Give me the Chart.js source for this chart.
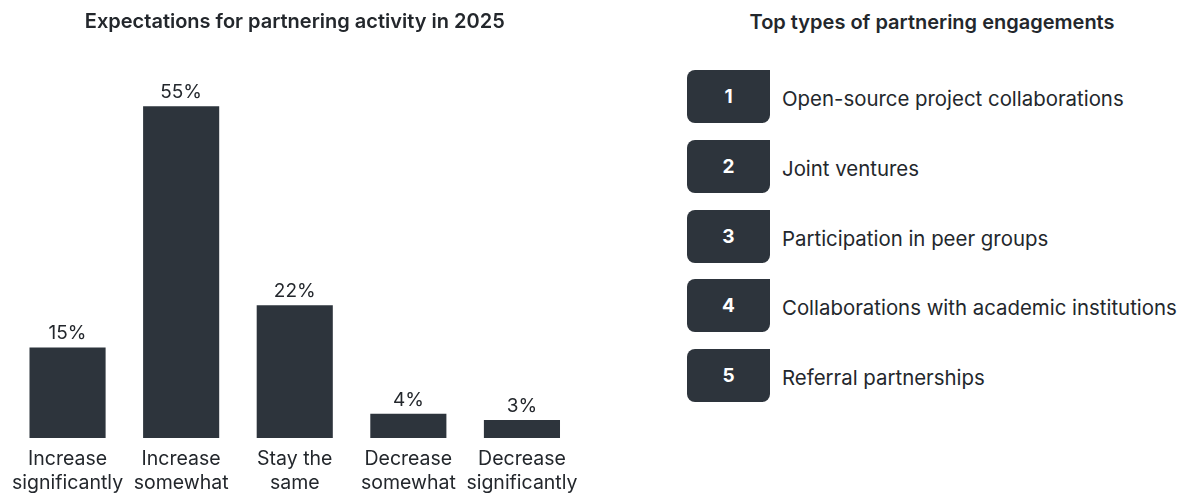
<!DOCTYPE html>
<html>
<head>
<meta charset="utf-8">
<script src="https://cdn.jsdelivr.net/npm/chart.js@4.4.1/dist/chart.umd.min.js"></script>
<style>
  html, body { margin: 0; padding: 0; background: #ffffff; }
  body { width: 1187px; height: 495px; position: relative; overflow: hidden; font-family: Inter, "Noto Sans", sans-serif; color: #23272c; }
  #left { position: absolute; left: 0; top: 0; width: 595px; height: 495px; }
  #right { position: absolute; left: 680px; top: 0; width: 507px; height: 495px; }
  #rtitle { position: absolute; left: 0; width: 504px; top: 10px; text-align: center; font-weight: 600; font-size: 20px; line-height: 24px; color: #23272c; }
  .row { position: absolute; left: 7px; height: 53px; width: 500px; }
  .badge { position: absolute; left: 0; top: 0; width: 83px; height: 53px; background: #2d343c; color: #fff; border-radius: 8px 0 8px 8px; font-weight: 700; font-size: 19px; display: flex; align-items: center; justify-content: center; }
  .item { position: absolute; left: 95px; top: 1px; height: 55px; display: flex; align-items: center; font-size: 20.4px; color: #23272c; white-space: nowrap; }
</style>
</head>
<body>
<div id="left"><canvas id="c1" width="595" height="495"></canvas></div>
<div id="right">
  <div id="rtitle"></div>
  <div id="list"></div>
</div>
<script>
const leftTitle = "Expectations for partnering activity in 2025";
const categories = [["Increase", "significantly"], ["Increase", "somewhat"], ["Stay the", "same"], ["Decrease", "somewhat"], ["Decrease", "significantly"]];
const shares = [15, 55, 22, 4, 3];

const rightTitle = "Top types of partnering engagements";
const ranks = [1, 2, 3, 4, 5];
const engagements = ["Open-source project collaborations", "Joint ventures", "Participation in peer groups", "Collaborations with academic institutions", "Referral partnerships"];

const BAR = "#2d343c";
const TEXT = "#23272c";
const FONT = "Inter, 'Noto Sans', sans-serif";

const valueLabels = {
  id: "valueLabels",
  afterDatasetsDraw(chart) {
    const ctx = chart.ctx;
    const meta = chart.getDatasetMeta(0);
    ctx.save();
    ctx.font = "19px " + FONT;
    ctx.fillStyle = TEXT;
    ctx.textAlign = "center";
    ctx.textBaseline = "middle";
    meta.data.forEach((bar, i) => {
      ctx.fillText(shares[i] + "%", bar.x, bar.y - 14);
    });
    ctx.restore();
  }
};

new Chart(document.getElementById("c1"), {
  type: "bar",
  data: {
    labels: categories,
    datasets: [{ data: shares, backgroundColor: BAR, borderWidth: 0, barPercentage: 0.67, categoryPercentage: 1 }]
  },
  options: {
    responsive: false,
    animation: false,
    layout: { padding: { left: 10.75, right: 16.25, top: 0, bottom: -9 } },
    plugins: {
      legend: { display: false },
      tooltip: { enabled: false },
      title: { display: true, text: leftTitle, color: TEXT, font: { family: FONT, size: 20, weight: "600" }, padding: { top: 10, bottom: 42 } }
    },
    scales: {
      x: {
        grid: { display: false, drawTicks: false },
        border: { display: false },
        ticks: { color: TEXT, font: { family: FONT, size: 19.5, lineHeight: 24 / 19.5 }, padding: 9, maxRotation: 0, autoSkip: false }
      },
      y: { display: false, min: 0, max: 60 }
    }
  },
  plugins: [valueLabels]
});

document.getElementById("rtitle").textContent = rightTitle;
const list = document.getElementById("list");
ranks.forEach((r, i) => {
  const row = document.createElement("div");
  row.className = "row";
  row.style.top = (70 + i * 69.75) + "px";
  const b = document.createElement("div");
  b.className = "badge";
  b.textContent = r;
  const t = document.createElement("div");
  t.className = "item";
  t.textContent = engagements[i];
  row.appendChild(b);
  row.appendChild(t);
  list.appendChild(row);
});
</script>
</body>
</html>
